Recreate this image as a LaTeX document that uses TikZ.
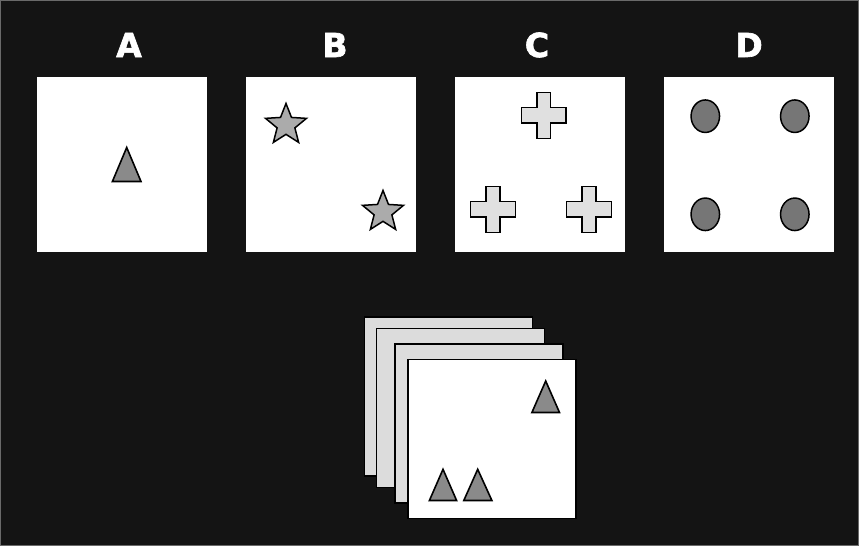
\documentclass[tikz,border=0pt]{standalone}
\usepackage{fontspec}
\newfontfamily\labelfont[FakeBold=2]{DejaVu Sans Bold}
\usetikzlibrary{shapes.geometric}

\definecolor{bgdark}{HTML}{141414}
\definecolor{frameline}{HTML}{6A6A6A}
\definecolor{trigray}{HTML}{8A8A8A}
\definecolor{stargray}{HTML}{ABABAB}
\definecolor{plusgray}{HTML}{E0E0E0}
\definecolor{dotgray}{HTML}{767676}
\definecolor{sheetgray}{HTML}{DCDCDC}

\begin{document}
\begin{tikzpicture}[
    x=1pt, y=-1pt,
    panel/.style={rectangle, fill=white, inner sep=0pt, minimum width=170pt, minimum height=175pt},
    sheet/.style={rectangle, draw=black, line width=1.5pt, fill=sheetgray, inner sep=0pt, minimum width=168pt, minimum height=159pt},
    letter/.style={anchor=base, text=white, font=\labelfont\fontsize{33}{33}\selectfont},
    tri/.style={draw=black, fill=trigray, line width=1.6pt, line join=miter},
    starmark/.style={star, star points=5, star point ratio=2.3, draw=black, fill=stargray, line width=1.5pt, inner sep=0pt, minimum size=43pt},
    plus/.style={draw=black, fill=plusgray, line width=1.5pt},
    dot/.style={ellipse, draw=black, fill=dotgray, line width=1.5pt, inner sep=0pt, minimum width=28.5pt, minimum height=32.5pt}
]

% background
\fill[bgdark] (0,0) rectangle (859,546);
\draw[frameline, line width=1pt] (0.5,0.5) rectangle (858.5,545.5);
\useasboundingbox (0,0) rectangle (859,546);

% Panel A
\node[letter] (labA) at (129,57) {A};
\node[panel] (panA) at (122,164.5) {};
\draw[tri] (126.7,147.5) -- (141,181.5) -- (112.4,181.5) -- cycle;

% Panel B
\node[letter] (labB) at (335,57) {B};
\node[panel] (panB) at (331,164.5) {};
\node[starmark] (starB1) at (286,125) {};
\node[starmark] (starB2) at (383,212) {};

% Panel C
\node[letter] (labC) at (537,57) {C};
\node[panel] (panC) at (540,164.5) {};
\foreach \cx/\cy in {543.7/115.3, 493/209.3, 589/209.3}
    \draw[plus, shift={(\cx,\cy)}] (-6.8,-23) -- (6.8,-23) -- (6.8,-7.8) -- (22.3,-7.8) -- (22.3,7.8)
        -- (6.8,7.8) -- (6.8,23) -- (-6.8,23) -- (-6.8,7.8) -- (-22.3,7.8) -- (-22.3,-7.8) -- (-6.8,-7.8) -- cycle;

% Panel D
\node[letter] (labD) at (749,57) {D};
\node[panel] (panD) at (748.5,164.5) {};
\node[dot] (dot1) at (705.3,116.2) {};
\node[dot] (dot2) at (794.8,116.2) {};
\node[dot] (dot3) at (705.3,214.3) {};
\node[dot] (dot4) at (794.8,214.3) {};

% Stack of sheets
\node[sheet] (sheet1) at (448.6,396.3) {};
\node[sheet] (sheet2) at (460.6,407.8) {};
\node[sheet] (sheet3) at (479,423.5) {};
\node[sheet, fill=white] (front) at (492.2,439.2) {};
\draw[tri] (545.7,381) -- (559.5,412.5) -- (531.9,412.5) -- cycle;
\draw[tri] (443,469.3) -- (456.6,500.5) -- (429.4,500.5) -- cycle;
\draw[tri] (477.7,469.3) -- (491.9,500.5) -- (463.8,500.5) -- cycle;

\end{tikzpicture}
\end{document}
